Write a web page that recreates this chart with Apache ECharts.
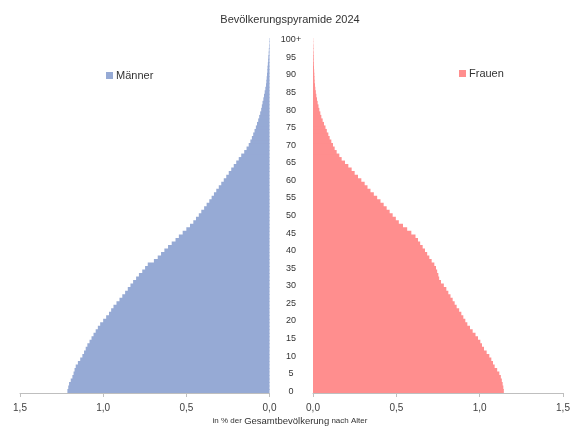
<!DOCTYPE html>
<html>
<head>
<meta charset="utf-8">
<script src="https://cdn.jsdelivr.net/npm/echarts@6/dist/echarts.min.js"></script>
<style>html,body{margin:0;padding:0;background:#fff;}#c{width:580px;height:428px;}</style>
</head>
<body>
<div id="c"></div>
<script>
const ages = [];
for (let a = 0; a <= 100; a++) ages.push(String(a));
const xTicks = ['0,0','0,5','1,0','1,5'];
const maenner = [
1.215,1.21,1.205,1.195,1.185,1.178,1.172,1.165,1.152,1.138,
1.125,1.115,1.105,1.095,1.082,1.07,1.058,1.045,1.032,1.018,
1.0,0.982,0.965,0.952,0.938,0.92,0.902,0.885,0.868,0.852,
0.836,0.82,0.802,0.785,0.765,0.748,0.732,0.695,0.672,0.652,
0.632,0.61,0.588,0.565,0.545,0.522,0.5,0.478,0.458,0.442,
0.425,0.41,0.393,0.378,0.362,0.348,0.334,0.32,0.305,0.29,
0.275,0.26,0.245,0.23,0.215,0.2,0.185,0.17,0.152,0.138,
0.125,0.115,0.106,0.098,0.09,0.082,0.075,0.068,0.062,0.056,
0.05,0.046,0.042,0.037,0.033,0.029,0.025,0.021,0.019,0.017,
0.015,0.013,0.012,0.01,0.008,0.007,0.005,0.004,0.003,0.002,
0.002];
const frauen = [
1.145,1.142,1.138,1.133,1.127,1.118,1.105,1.09,1.08,1.07,
1.058,1.042,1.026,1.014,1.004,0.99,0.975,0.958,0.942,0.926,
0.914,0.902,0.89,0.877,0.862,0.85,0.838,0.825,0.812,0.8,
0.785,0.768,0.757,0.752,0.745,0.738,0.728,0.712,0.698,0.685,
0.672,0.658,0.643,0.63,0.615,0.59,0.565,0.54,0.515,0.497,
0.478,0.46,0.442,0.424,0.405,0.385,0.365,0.345,0.327,0.31,
0.29,0.27,0.25,0.232,0.212,0.192,0.172,0.158,0.142,0.13,
0.12,0.11,0.1,0.092,0.083,0.075,0.066,0.058,0.05,0.044,
0.038,0.033,0.028,0.024,0.02,0.017,0.014,0.012,0.01,0.009,
0.008,0.007,0.006,0.005,0.004,0.004,0.003,0.002,0.002,0.001,
0.001];

const chart = echarts.init(document.getElementById('c'), null, {renderer:'canvas'});
const fmtX = v => xTicks[Math.round(v / 0.5)] || v.toFixed(1).replace('.', ',');
const xAxisCommon = {
  type: 'value', min: 0, max: 1.5, interval: 0.5,
  axisLine: {show: true, lineStyle: {color: '#bfbfbf', width: 1}},
  axisTick: {show: true, length: 4, lineStyle: {color: '#bfbfbf'}},
  splitLine: {show: false},
  axisLabel: {formatter: fmtX, fontSize: 10, color: '#404040', margin: 10, fontFamily: 'Liberation Sans'}
};
chart.setOption({
  animation: false,
  backgroundColor: '#ffffff',
  title: {
    text: 'Bevölkerungspyramide 2024', left: 'center', top: 9,
    textStyle: {fontSize: 11, fontWeight: 'normal', color: '#333', fontFamily: 'Liberation Sans'}
  },
  legend: [
    {data: ['Männer'], left: 101, top: 65, icon: 'rect', itemWidth: 7, itemHeight: 7, itemGap: 3,
     textStyle: {fontSize: 11, color: '#333', padding: [0,0,0,-2], fontFamily: 'Liberation Sans'}},
    {data: ['Frauen'], left: 454, top: 63, icon: 'rect', itemWidth: 7, itemHeight: 7, itemGap: 3,
     textStyle: {fontSize: 11, color: '#333', padding: [0,0,0,-2], fontFamily: 'Liberation Sans'}}
  ],
  grid: [
    {left: 20, top: 38, width: 249.5, height: 355, containLabel: false},
    {left: 313, top: 38, width: 250, height: 355, containLabel: false}
  ],
  xAxis: [
    Object.assign({gridIndex: 0, inverse: true}, xAxisCommon),
    Object.assign({gridIndex: 1}, xAxisCommon)
  ],
  yAxis: [
    {type: 'category', gridIndex: 0, data: ages, position: 'right',
     axisLine: {show: false}, axisTick: {show: false}, axisLabel: {show: false}},
    {type: 'category', gridIndex: 1, data: ages, position: 'left',
     axisLine: {show: false}, axisTick: {show: false},
     axisLabel: {show: true, interval: 4, align: 'center', margin: 22, fontSize: 9, color: '#333',
       fontFamily: 'Liberation Sans',
       formatter: v => v === '100' ? '100+' : v}}
  ],
  series: [
    {name: 'Männer', type: 'bar', xAxisIndex: 0, yAxisIndex: 0, data: maenner,
     barWidth: 4.4, itemStyle: {color: '#96aad5'}},
    {name: 'Frauen', type: 'bar', xAxisIndex: 1, yAxisIndex: 1, data: frauen,
     barWidth: 4.4, itemStyle: {color: '#ff8e8e'}}
  ],
  graphic: [{
    type: 'text', left: 'center', top: 416,
    style: {
      text: '{s|in % der }{b|Gesamtbevölkerung}{s| nach Alter}',
      rich: {
        s: {fontSize: 8, fill: '#333', fontFamily: 'Liberation Sans'},
        b: {fontSize: 9.5, fill: '#333', fontFamily: 'Liberation Sans'}
      }
    }
  }]
});
</script>
</body>
</html>
